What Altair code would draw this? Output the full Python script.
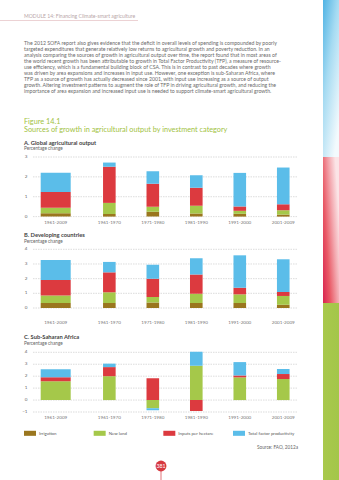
import altair as alt
import pandas as pd

FONT = "Lato"

# ---------------- data ----------------
categories = ["1961-2009", "1961-1970", "1971-1980", "1981-1990", "1991-2000", "2001-2009"]
whole_period = categories[:1]
decades = categories[1:]
components = ["Irrigation", "New land", "Inputs per hectare", "Total factor productivity"]
component_colors = ["#9a761e", "#a5c84a", "#dc3a3f", "#5bbde9"]

# A. Global agricultural output
a_irrigation = [0.17, 0.13, 0.25, 0.16, 0.14, 0.10]
a_new_land = [0.28, 0.56, 0.25, 0.38, 0.15, 0.22]
a_inputs = [0.79, 1.82, 1.15, 0.91, 0.22, 0.30]
a_tfp = [0.97, 0.21, 0.63, 0.63, 1.69, 1.85]
a_ticks = [0, 1, 2, 3]

# B. Developing countries
b_irrigation = [0.34, 0.34, 0.38, 0.34, 0.34, 0.22]
b_new_land = [0.52, 0.73, 0.37, 0.63, 0.59, 0.60]
b_inputs = [1.04, 1.36, 1.25, 1.32, 0.45, 0.27]
b_tfp = [1.37, 0.71, 0.95, 1.10, 2.21, 2.23]
b_ticks = [0, 1, 2, 3, 4]

# C. Sub-Saharan Africa
c_irrigation = [0, 0, 0, 0, 0, 0]
c_new_land = [1.58, 2.00, -0.69, 2.87, 1.90, 1.76]
c_inputs = [0.32, 0.76, 1.82, -0.92, 0.16, 0.42]
c_tfp = [0.67, 0.29, -0.16, 1.18, 1.12, 0.42]
c_ticks = [-1, 0, 1, 2, 3, 4]

header = "MODULE 14: Financing Climate-smart agriculture"
paragraph = [
    "The 2012 SOFA report also gives evidence that the deficit in overall levels of spending is compounded by poorly",
    "targeted expenditures that generate relatively low returns to agricultural growth and poverty reduction. In an",
    "analysis comparing the sources of growth in agricultural output over time, the report found that in most areas of",
    "the world recent growth has been attributable to growth in Total Factor Productivity (TFP), a measure of resource-",
    "use efficiency, which is a fundamental building block of CSA. This is in contrast to past decades where growth",
    "was driven by area expansions and increases in input use. However, one exception is sub-Saharan Africa, where",
    "TFP as a source of growth has actually decreased since 2001, with input use increasing as a source of output",
    "growth. Altering investment patterns to augment the role of TFP in driving agricultural growth, and reducing the",
    "importance of area expansion and increased input use is needed to support climate-smart agricultural growth.",
]
fig_number = "Figure 14.1"
fig_title = "Sources of growth in agricultural output by investment category"
panel_titles = ["A. Global agricultural output", "B. Developing countries", "C. Sub-Saharan Africa"]
y_title = "Percentage change"
source = "Source: FAO, 2012a"
page_number = "381"


def long_df(series):
    rows = []
    for k, (comp, vals) in enumerate(zip(components, series)):
        for cat, v in zip(categories, vals):
            rows.append({"period": cat, "component": comp, "value": v, "k": k})
    return pd.DataFrame(rows)


color_enc = alt.Color("component:N", scale=alt.Scale(domain=components, range=component_colors), legend=None)
one = alt.Data(values=[{"a": 1}])


def txt(s, x, y, size, color="#666666", weight="normal", align="left", baseline="middle", **kw):
    return alt.Chart(one).mark_text(
        text=s, font=FONT, fontSize=size, color=color, fontWeight=weight,
        align=align, baseline=baseline, **kw
    ).encode(x=alt.value(x), y=alt.value(y))


def panel_layers(title, series, ticks, ydomain, yrange, title_y, sub_y, label_y):
    df = long_df(series)
    yscale = alt.Scale(domain=ydomain, range=yrange, nice=False, zero=False)
    tdf = pd.DataFrame({"t": ticks})
    layers = [
        txt(title, 24, title_y, 5.75, color="#444444", weight="bold"),
        txt(y_title, 24, sub_y, 4.7, color="#666666"),
        alt.Chart(tdf).mark_rule(color="#c4c4c4", strokeWidth=0.6, strokeDash=[1.5, 1]).encode(
            y=alt.Y("t:Q", scale=yscale, axis=None), x=alt.value(33), x2=alt.value(297)
        ),
        alt.Chart(tdf).mark_text(font=FONT, fontSize=4.6, color="#666666", align="right", baseline="middle").encode(
            y=alt.Y("t:Q", scale=yscale, axis=None), x=alt.value(27.5), text=alt.Text("t:Q")
        ),
    ]
    for group, xrange, pin, pout in [
        (whole_period, [40.7, 70.7], 0, 0),
        (decades, [87.6, 305.0], 0.71, 0.355),
    ]:
        xscale = alt.Scale(domain=group, range=xrange, paddingInner=pin, paddingOuter=pout)
        sub = df[df["period"].isin(group)]
        layers.append(
            alt.Chart(sub).mark_bar().encode(
                x=alt.X("period:N", scale=xscale, axis=None),
                y=alt.Y("value:Q", stack="zero", scale=yscale, axis=None),
                color=color_enc,
                order=alt.Order("k:Q", sort="ascending"),
            )
        )
        layers.append(
            alt.Chart(pd.DataFrame({"period": group})).mark_text(
                font=FONT, fontSize=4.6, color="#777777", align="center", baseline="middle"
            ).encode(x=alt.X("period:N", scale=xscale, axis=None), y=alt.value(label_y), text="period:N")
        )
    return layers


def stripe(y0, y1, stops, x1, y1g, x2, y2g):
    return alt.Chart(one).mark_rect(
        fill=alt.Gradient(
            gradient="linear",
            stops=[alt.GradientStop(color=c, offset=o) for o, c in stops],
            x1=x1, y1=y1g, x2=x2, y2=y2g,
        )
    ).encode(x=alt.value(323), x2=alt.value(339), y=alt.value(y0), y2=alt.value(y1))


layers = [
    stripe(0, 157, [(0, "#4fb3e4"), (0.45, "#a6dbf2"), (1, "#f3fafd")], 0, 0, 0.7, 1),
    stripe(157, 303, [(0, "#d9244f"), (0.35, "#e95a66"), (0.7, "#f3a8af"), (1, "#fbe4e6")], 0, 1, 1, 0.4),
    stripe(303, 480, [(0, "#a9c94c"), (1, "#a3c64a")], 0, 0, 1, 0),
    txt(header, 24, 16, 5.1, color="#b8a6a8"),
    alt.Chart(one).mark_rule(color="#dfb3b7", strokeWidth=0.6).encode(
        x=alt.value(0), x2=alt.value(138), y=alt.value(20.5)
    ),
    alt.Chart(one).mark_text(
        text=paragraph, font=FONT, fontSize=5.18, lineHeight=6, color="#6a6a6a",
        align="left", baseline="alphabetic"
    ).encode(x=alt.value(24), y=alt.value(44.5)),
    txt(fig_number, 24, 122.3, 7.3, color="#9fc23f"),
    txt(fig_title, 24, 130.2, 7.3, color="#9fc23f"),
]

layers += panel_layers(panel_titles[0], [a_irrigation, a_new_land, a_inputs, a_tfp], a_ticks,
                       [0, 3], [216.6, 157], 142.7, 149.3, 223)
layers += panel_layers(panel_titles[1], [b_irrigation, b_new_land, b_inputs, b_tfp], b_ticks,
                       [0, 4], [308, 249.3], 234.7, 242, 323.3)
layers += panel_layers(panel_titles[2], [c_irrigation, c_new_land, c_inputs, c_tfp], c_ticks,
                       [-1, 4], [412, 352.3], 336.7, 344, 418.3)

# legend
lscale = alt.Scale(type="point", domain=components, range=[30, 239], padding=0)
ldf = pd.DataFrame({"component": components})
layers += [
    alt.Chart(ldf).mark_point(shape="M-1,-0.42H1V0.42H-1Z", size=144, filled=True, opacity=1, strokeWidth=0).encode(
        x=alt.X("component:N", scale=lscale, axis=None), y=alt.value(433.3), color=color_enc
    ),
    alt.Chart(ldf).mark_text(font=FONT, fontSize=4.4, color="#555555", align="left", baseline="middle", dx=9).encode(
        x=alt.X("component:N", scale=lscale, axis=None), y=alt.value(433.5), text="component:N"
    ),
    txt(source, 298, 448, 4.7, color="#666666", align="right"),
    alt.Chart(one).mark_rule(color="#d6383f", strokeWidth=0.7).encode(
        x=alt.value(161), y=alt.value(470), y2=alt.value(480)
    ),
    alt.Chart(one).mark_circle(size=118, color="#d6383f", opacity=1).encode(x=alt.value(161), y=alt.value(466)),
    txt(page_number, 161, 466.3, 5.2, color="#ffffff", align="center"),
]

chart = (
    alt.layer(*layers)
    .resolve_scale(x="independent", y="independent")
    .properties(width=339, height=480, autosize=alt.AutoSizeParams(type="none"), padding=0, background="white")
    .configure_view(strokeWidth=0)
)

chart.save("out.html", embed_options={"renderer": "svg", "actions": False})
